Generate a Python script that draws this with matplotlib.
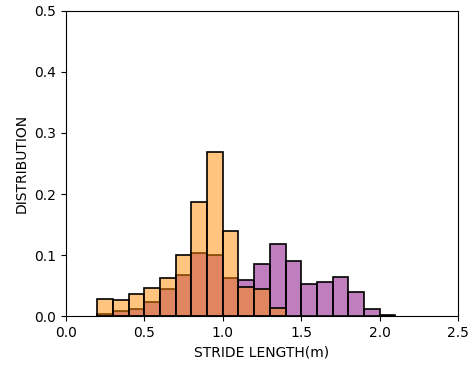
import numpy as np
import matplotlib.pyplot as plt

# bin left edges (m) and per-bin probability
bin_edges = np.round(np.arange(0.2, 2.11, 0.1), 2)

purple_vals = [0.004, 0.008, 0.011, 0.023, 0.045, 0.067, 0.103, 0.100, 0.063,
               0.059, 0.085, 0.118, 0.090, 0.052, 0.055, 0.064, 0.040, 0.012, 0.002]
orange_vals = [0.028, 0.026, 0.036, 0.046, 0.063, 0.100, 0.187, 0.269, 0.140,
               0.047, 0.044, 0.013]

fig = plt.figure(figsize=(4.69, 3.65), dpi=100)
ax = fig.add_axes([0.1407, 0.1342, 0.8358, 0.8357])

ax.hist(bin_edges[:len(purple_vals)], bins=bin_edges[:len(purple_vals) + 1],
        weights=purple_vals, facecolor=(0.5, 0.0, 0.5, 0.5),
        edgecolor="black", linewidth=1.2)
ax.hist(bin_edges[:len(orange_vals)], bins=bin_edges[:len(orange_vals) + 1],
        weights=orange_vals, facecolor=(1.0, 0.549, 0.0, 0.5),
        edgecolor="black", linewidth=1.2)

ax.set_xlim(0, 2.5)
ax.set_ylim(0, 0.5)
ax.set_xlabel("STRIDE LENGTH(m)")
ax.set_ylabel("DISTRIBUTION")

plt.savefig("out.png", dpi=100)
